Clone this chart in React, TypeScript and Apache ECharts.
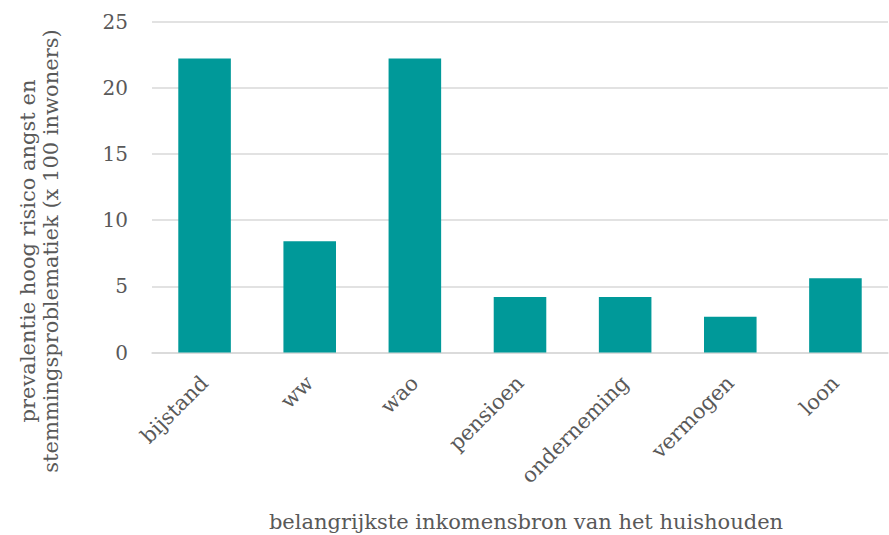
import React, { useEffect, useRef } from "react";
import * as echarts from "echarts";

const categories = ["bijstand", "ww", "wao", "pensioen", "onderneming", "vermogen", "loon"];
const values = [22.2, 8.4, 22.2, 4.2, 4.2, 2.7, 5.6];
const yTicks = { min: 0, max: 25, interval: 5 };
const xTitle = "belangrijkste inkomensbron van het huishouden";
const yTitle = "prevalentie hoog risico angst en\nstemmingsproblematiek (x 100 inwoners)";

const FONT = "DejaVu Serif";
const TEXT = "#595959";

export default function App() {
  const ref = useRef<HTMLDivElement>(null);
  useEffect(() => {
    if (!ref.current) return;
    const chart = echarts.init(ref.current, undefined, { renderer: "svg" });
    chart.setOption({
      animation: false,
      grid: { left: 152, right: 1, top: 21.5, bottom: 182.5, containLabel: false },
      xAxis: {
        type: "category",
        data: categories,
        axisLine: { show: true, lineStyle: { color: "#d9d9d9", width: 1.5 } },
        axisTick: { show: false },
        axisLabel: {
          interval: 0,
          rotate: 45,
          margin: 27,
          color: TEXT,
          fontFamily: FONT,
          fontSize: 21,
        },
      },
      yAxis: {
        type: "value",
        min: yTicks.min,
        max: yTicks.max,
        interval: yTicks.interval,
        axisLine: { show: false },
        axisTick: { show: false },
        splitLine: { lineStyle: { color: "#d9d9d9", width: 1.5 } },
        axisLabel: { margin: 24, color: TEXT, fontFamily: FONT, fontSize: 20 },
      },
      series: [
        {
          type: "bar",
          data: values,
          barWidth: "50%",
          itemStyle: { color: "#009999" },
        },
      ],
      graphic: [
        {
          type: "text",
          x: 526,
          y: 522,
          style: {
            text: xTitle,
            fill: TEXT,
            font: `21px "${FONT}"`,
            textAlign: "center",
            textVerticalAlign: "middle",
          },
        },
        {
          type: "text",
          x: 39,
          y: 251,
          rotation: Math.PI / 2,
          style: {
            text: yTitle,
            fill: TEXT,
            font: `21px "${FONT}"`,
            lineHeight: 23,
            textAlign: "center",
            textVerticalAlign: "middle",
          },
        },
      ],
    });
    return () => chart.dispose();
  }, []);
  return <div ref={ref} style={{ width: 889, height: 535, position: "absolute", left: 0, top: 0 }} />;
}
